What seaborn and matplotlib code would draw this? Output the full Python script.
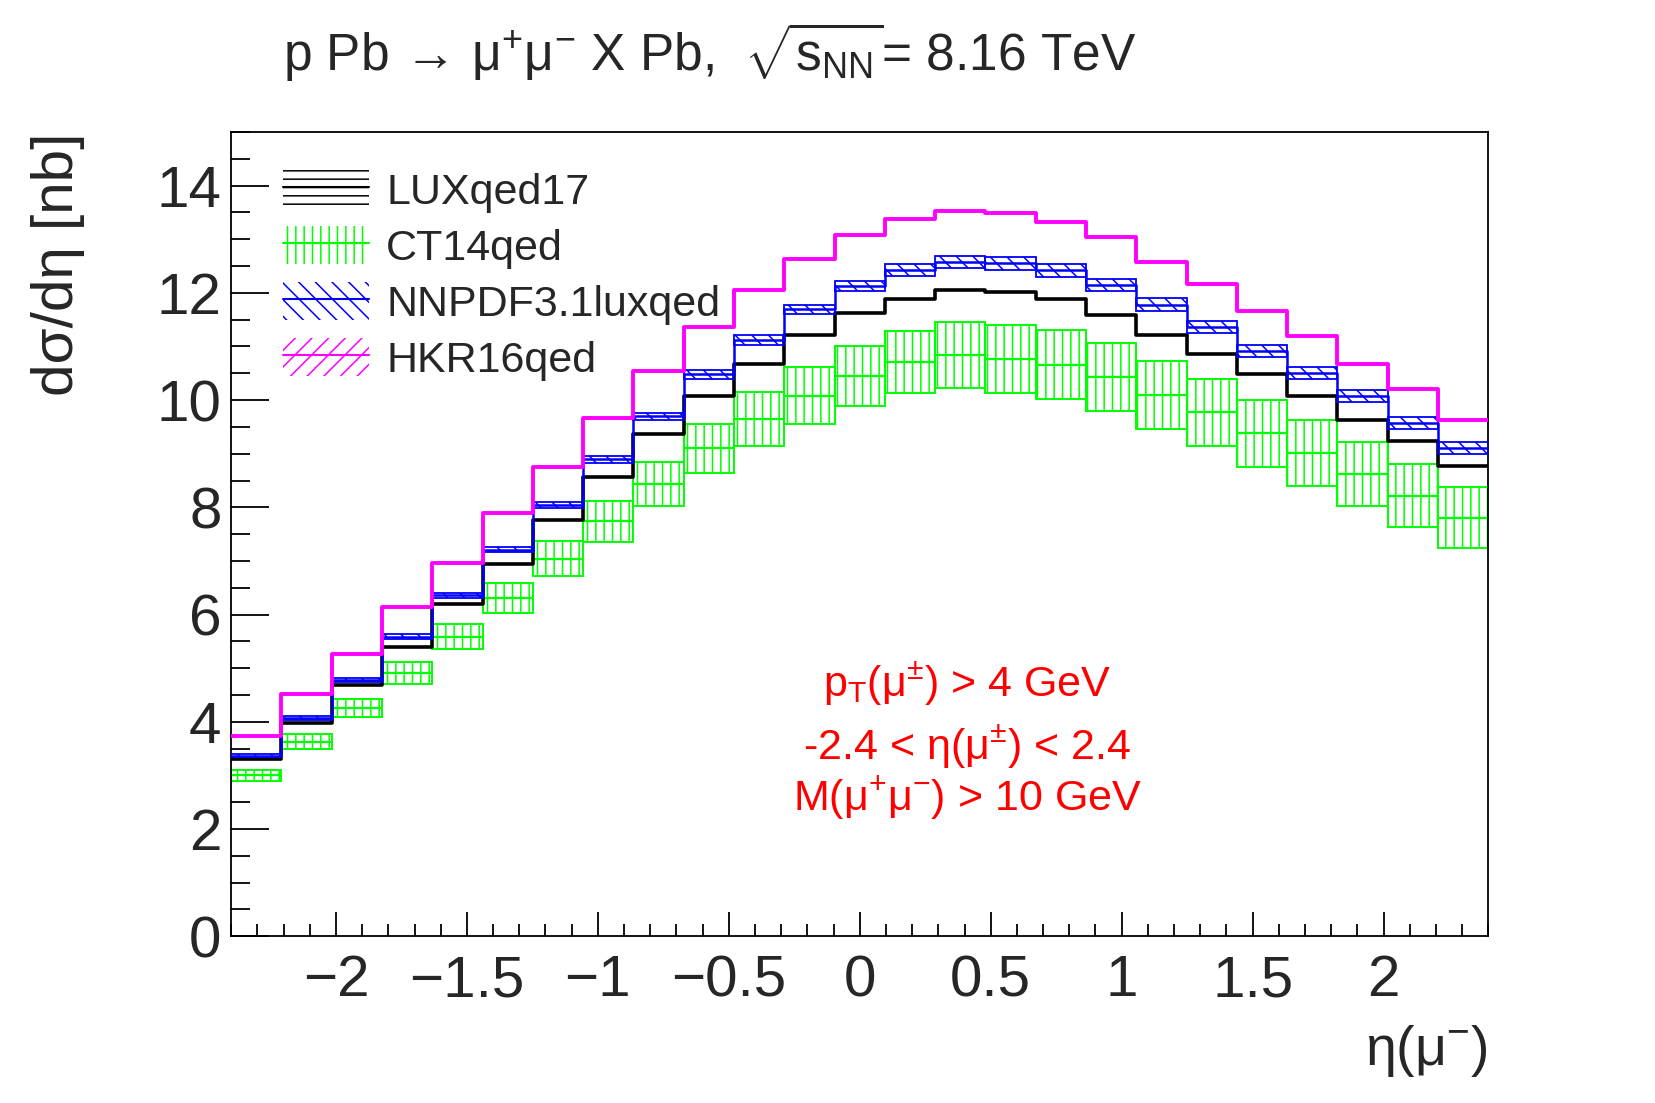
import numpy as np
import matplotlib
matplotlib.use("Agg")
import matplotlib.pyplot as plt
from matplotlib.patches import Patch
from matplotlib.lines import Line2D
from matplotlib.legend_handler import HandlerTuple
from matplotlib.ticker import MultipleLocator
import seaborn as sns

# ---------------- data (25 bins, eta from -2.4 to 2.4) ----------------
eta_min, eta_max, n_bins = -2.4, 2.4, 25

lux_vals = [3.31, 3.97, 4.68, 5.40, 6.19, 6.94, 7.76, 8.57, 9.36, 10.08,
            10.67, 11.22, 11.62, 11.88, 12.06, 12.02, 11.89, 11.59, 11.22,
            10.86, 10.49, 10.07, 9.63, 9.24, 8.78]

ct14_vals = [3.00, 3.63, 4.26, 4.91, 5.59, 6.31, 7.04, 7.74, 8.44, 9.10,
             9.65, 10.08, 10.45, 10.71, 10.84, 10.77, 10.66, 10.43, 10.10,
             9.77, 9.38, 9.01, 8.62, 8.22, 7.81]
ct14_err = [0.105, 0.14, 0.17, 0.20, 0.24, 0.275, 0.33, 0.38, 0.41, 0.46,
            0.50, 0.53, 0.56, 0.58, 0.62, 0.63, 0.64, 0.64, 0.63, 0.625,
            0.62, 0.61, 0.59, 0.58, 0.57]

nnpdf_vals = [3.37, 4.07, 4.78, 5.59, 6.36, 7.21, 8.04, 8.90, 9.70, 10.48,
              11.12, 11.69, 12.13, 12.42, 12.57, 12.55, 12.42, 12.15, 11.78,
              11.37, 10.92, 10.51, 10.07, 9.57, 9.10]
nnpdf_err = [0.03, 0.035, 0.04, 0.045, 0.045, 0.05, 0.06, 0.064, 0.065, 0.08,
             0.087, 0.093, 0.10, 0.11, 0.11, 0.115, 0.12, 0.115, 0.115, 0.11,
             0.115, 0.11, 0.11, 0.11, 0.11]

hkr_vals = [3.74, 4.51, 5.26, 6.14, 6.96, 7.89, 8.76, 9.67, 10.54, 11.36,
            12.06, 12.63, 13.08, 13.37, 13.52, 13.49, 13.32, 13.04, 12.57,
            12.16, 11.67, 11.20, 10.68, 10.21, 9.63]

labels = ["LUXqed17", "CT14qed", "NNPDF3.1luxqed", "HKR16qed"]
x_major = [-2, -1.5, -1, -0.5, 0, 0.5, 1, 1.5, 2]
y_major = [0, 2, 4, 6, 8, 10, 12, 14]

# ---------------- style ----------------
sns.set_style("ticks")
plt.rcParams["font.family"] = ["Liberation Sans", "DejaVu Sans"]
plt.rcParams["mathtext.fontset"] = "custom"
plt.rcParams["mathtext.rm"] = "Liberation Sans"
plt.rcParams["mathtext.it"] = "Liberation Sans:italic"
plt.rcParams["mathtext.bf"] = "Liberation Sans:bold"
plt.rcParams["mathtext.sf"] = "Liberation Sans"
plt.rcParams["hatch.linewidth"] = 1.1

GREEN, BLUE, MAG, RED = "#00ff00", "#0000ff", "#ff00ff", "#ff0000"

edges = np.linspace(eta_min, eta_max, n_bins + 1)
width = edges[1] - edges[0]


def step_xy(vals):
    return edges, np.append(vals, vals[-1])


fig = plt.figure(figsize=(16.55, 11.03), dpi=100)
ax = fig.add_axes([0.1397, 0.1512, 0.7596, 0.7291])

# LUXqed17 central line
xs, ys = step_xy(np.array(lux_vals))
sns.lineplot(x=xs, y=ys, ax=ax, drawstyle="steps-post", color="black",
             lw=2.6, estimator=None, sort=False, legend=False, zorder=3)

# CT14qed band (boxes with vertical hatch) + central line
ct = np.array(ct14_vals); cte = np.array(ct14_err)
ax.bar(edges[:-1], 2 * cte, bottom=ct - cte, width=width, align="edge",
       fill=False, hatch="||", edgecolor=GREEN, linewidth=1.4, zorder=2)
ax.hlines(ct, edges[:-1], edges[1:], color=GREEN, lw=1.6, zorder=2)

# NNPDF band + step line
nn = np.array(nnpdf_vals); nne = np.array(nnpdf_err)
ax.bar(edges[:-1], 2 * nne, bottom=nn - nne, width=width, align="edge",
       fill=False, hatch="\\\\", edgecolor=BLUE, linewidth=1.3, zorder=4)
xs, ys = step_xy(nn)
sns.lineplot(x=xs, y=ys, ax=ax, drawstyle="steps-post", color=BLUE,
             lw=1.8, estimator=None, sort=False, legend=False, zorder=4)

# HKR16qed step line
xs, ys = step_xy(np.array(hkr_vals))
sns.lineplot(x=xs, y=ys, ax=ax, drawstyle="steps-post", color=MAG,
             lw=2.8, estimator=None, sort=False, legend=False, zorder=5)

# axes
ax.set_xlim(eta_min, eta_max)
ax.set_ylim(0, 15)
ax.set_xticks(x_major)
ax.set_xticklabels([f"{v:g}".replace("-", "\u2212") for v in x_major])
ax.set_yticks(y_major)
ax.xaxis.set_minor_locator(MultipleLocator(0.1))
ax.yaxis.set_minor_locator(MultipleLocator(0.5))
ax.tick_params(axis="both", which="both", direction="in", top=False,
               right=False, color="black", width=1.3)
ax.tick_params(axis="x", which="major", length=17.5, pad=13, labelsize=42)
ax.tick_params(axis="x", which="minor", length=8.7)
ax.tick_params(axis="y", which="major", length=27, pad=7, labelsize=42)
ax.tick_params(axis="y", which="minor", length=13.5)
for s in ax.spines.values():
    s.set_visible(True)
    s.set_color("black")
    s.set_linewidth(1.3)
ax.set_xlabel("")
ax.set_ylabel("")

fig.text(0.035, 0.880, "d\u03c3/d\u03b7 [nb]", rotation=90, ha="center",
         va="top", fontsize=42)
fig.text(0.899, 0.034, "\u03b7(\u03bc$^{-}$)", ha="right", va="baseline",
         fontsize=40)

# title
fig.text(0.171, 0.936,
         "p Pb$\\,\\rightarrow\\,$\u03bc$^{+}$\u03bc$^{-}$ X Pb,  "
         "$\\sqrt{\\mathrm{s}_{\\mathrm{NN}}}$= 8.16 TeV",
         ha="left", va="baseline", fontsize=37)

# cuts text
for txt, yb in [("p$_{\\mathrm{T}}$(\u03bc$^{\u00b1}$) > 4 GeV", 4.47),
                ("-2.4 < \u03b7(\u03bc$^{\u00b1}$) < 2.4", 3.29),
                ("M(\u03bc$^{+}$\u03bc$^{-}$) > 10 GeV", 2.34)]:
    ax.text(0.41, yb, txt, color=RED, ha="center", va="baseline", fontsize=31)

# legend
h_lux = (Patch(facecolor="none", edgecolor="black", hatch="--", lw=0),
         Line2D([], [], color="black", lw=1.5))
h_ct = (Patch(facecolor="none", edgecolor=GREEN, hatch="||", lw=0),
        Line2D([], [], color=GREEN, lw=1.5))
h_nn = (Patch(facecolor="none", edgecolor=BLUE, hatch="\\\\", lw=0),
        Line2D([], [], color=BLUE, lw=1.5))
h_hk = (Patch(facecolor="none", edgecolor=MAG, hatch="//", lw=0),
        Line2D([], [], color=MAG, lw=1.5))
fig.legend([h_lux, h_ct, h_nn, h_hk], labels,
           handler_map={tuple: HandlerTuple(ndivide=1, pad=0)},
           loc="upper left", bbox_to_anchor=(0.171, 0.846),
           frameon=False, fontsize=31, handlelength=2.0, handleheight=1.0,
           handletextpad=0.4, labelspacing=0.3, borderpad=0,
           borderaxespad=0)

fig.savefig("out.png", dpi=100)
